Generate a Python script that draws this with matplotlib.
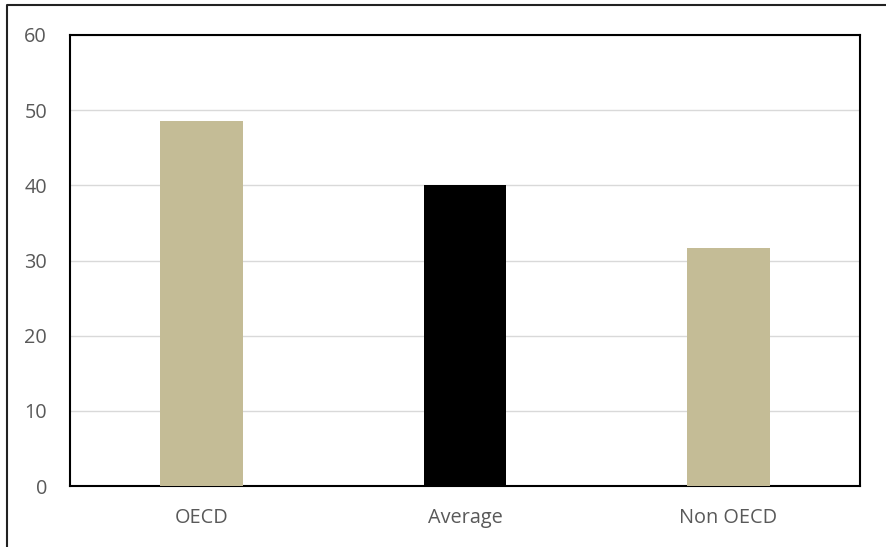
import matplotlib
matplotlib.use("Agg")
import matplotlib.pyplot as plt
from matplotlib.lines import Line2D

categories = ["OECD", "Average", "Non OECD"]
values = [48.6, 40.0, 31.6]
colors = ["#C4BC96", "#000000", "#C4BC96"]
yticks = [0, 10, 20, 30, 40, 50, 60]

plt.rcParams['font.family'] = ['Open Sans', 'DejaVu Sans']

W, H = 887, 547
fig = plt.figure(figsize=(W/100, H/100), dpi=100)
ax = fig.add_axes([70/W, 1-486/H, (860-70)/W, (486-35)/H])

x = list(range(len(categories)))
ax.bar(x, values, width=0.314, color=colors, zorder=3)
ax.set_xlim(-0.5, len(categories)-0.5)
ax.set_ylim(0, 60)
ax.set_yticks(yticks)
ax.set_xticks(x)
ax.set_xticklabels(categories)
ax.yaxis.grid(True, color="#D9D9D9", linewidth=1.0, zorder=0)
ax.set_axisbelow(True)
for s in ax.spines.values():
    s.set_color("black")
    s.set_linewidth(1.5)
ax.tick_params(axis='both', length=0, labelsize=14.3, labelcolor="#595959")
ax.tick_params(axis='y', pad=16.5)
ax.tick_params(axis='x', pad=16)

# outer frame: left and top edges only
fig.lines.append(Line2D([7/W, 7/W, 1.0], [0.0, 1-5/H, 1-5/H], transform=fig.transFigure,
                        color="#222222", linewidth=1.5))

fig.savefig("out.png", dpi=100)
